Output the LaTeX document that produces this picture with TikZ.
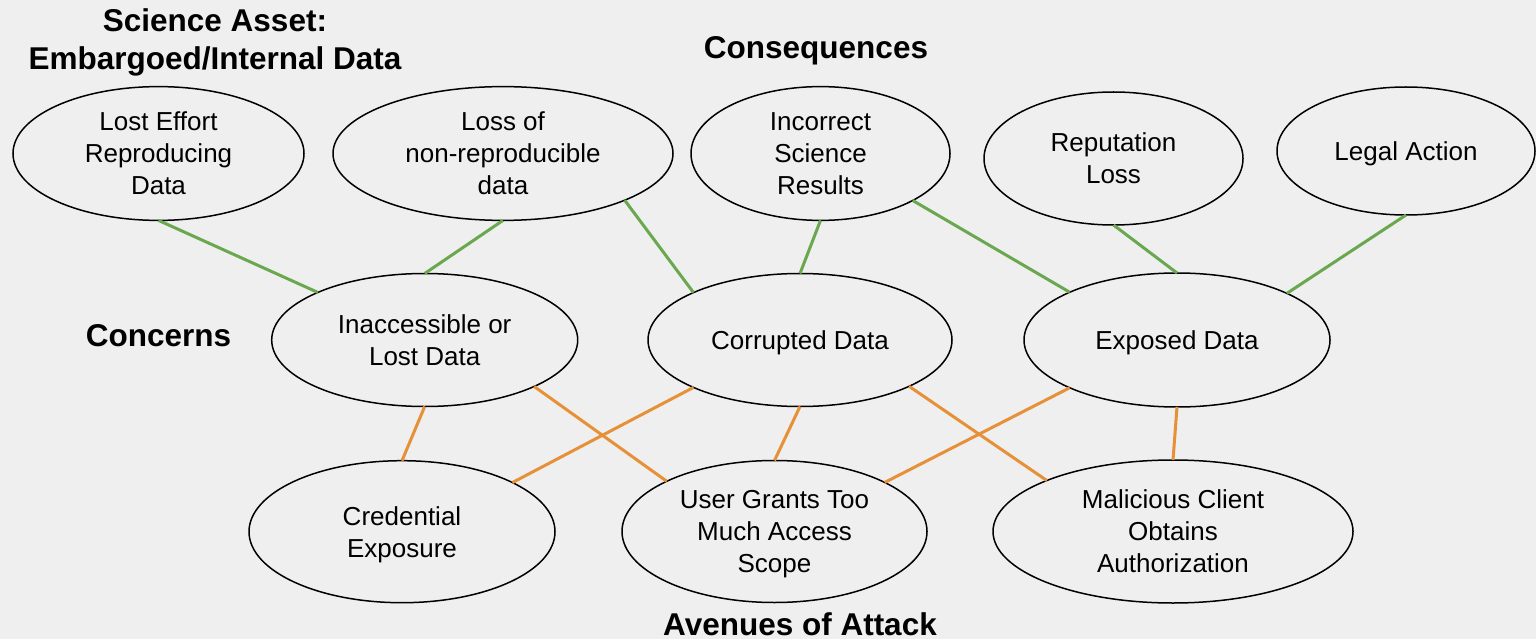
\documentclass[tikz,border=0pt]{standalone}
\usepackage{fontspec}
\setmainfont{Liberation Sans}
\usetikzlibrary{shapes.geometric}
\definecolor{bgc}{HTML}{EFEFEF}
\definecolor{grn}{HTML}{6AA84F}
\definecolor{org}{HTML}{E69138}
\newcommand{\estrut}{\rule[-6pt]{0pt}{30.6pt}}
\newcommand{\tstrut}{\rule[-7pt]{0pt}{36.6pt}}
\newcommand{\capstrut}{\rule{0pt}{22.6pt}}
\tikzset{
  oval/.style={ellipse, draw=black, line width=1.5pt, inner sep=0pt, outer sep=0pt,
    align=center, font=\fontsize{26}{32}\selectfont},
  heading/.style={inner sep=0pt, outer sep=0pt, align=center,
    font=\fontsize{31.5}{38.3}\selectfont\bfseries},
  gline/.style={draw=grn, line width=3pt},
  oline/.style={draw=org, line width=3pt}
}
\begin{document}
\begin{tikzpicture}[x=1pt,y=-1pt]
\fill[bgc] (0,0) rectangle (1536,639);
\useasboundingbox (0,0) rectangle (1536,639);
% headings
\node[heading] (hsci) at (215,39.2) {\tstrut Science Asset:\\\tstrut Embargoed/Internal Data};
\node[heading, text depth=0pt] (hcon) at (816,47.5) {\capstrut Consequences};
\node[heading, text depth=0pt] (hcnc) at (158.5,335.3) {\capstrut Concerns};
\node[heading, text depth=0pt] (hav) at (800,624.5) {\capstrut Avenues of Attack};
% consequences
\node[oval, minimum width=291pt, minimum height=133pt] (le) at (158.5,153.5) {\estrut Lost Effort\\\estrut Reproducing\\\estrut Data};
\node[oval, minimum width=340pt, minimum height=133pt] (lo) at (503,153.5) {\estrut Loss of\\\estrut non-reproducible\\\estrut data};
\node[oval, minimum width=259pt, minimum height=133pt] (ic) at (820.5,153.5) {\estrut Incorrect\\\estrut Science\\\estrut Results};
\node[oval, minimum width=259pt, minimum height=133pt] (rp) at (1113.5,158.5) {\estrut Reputation\\\estrut Loss};
\node[oval, minimum width=258pt, minimum height=128pt] (la) at (1406,151) {\estrut Legal Action};
% concerns
\node[oval, minimum width=306pt, minimum height=133pt] (in) at (424.7,340) {\estrut Inaccessible or\\\estrut Lost Data};
\node[oval, minimum width=304pt, minimum height=133pt] (co) at (800,340) {\estrut Corrupted Data};
\node[oval, minimum width=306pt, minimum height=134pt] (ex) at (1177,340) {\estrut Exposed Data};
% avenues
\node[oval, minimum width=306pt, minimum height=142pt] (ce) at (402,531.7) {\estrut Credential\\\estrut Exposure};
\node[oval, minimum width=305pt, minimum height=142pt] (ug) at (774.5,531.5) {\estrut User Grants Too\\\estrut Much Access\\\estrut Scope};
\node[oval, minimum width=360pt, minimum height=143pt] (mc) at (1173,531.5) {\estrut Malicious Client\\\estrut Obtains\\\estrut Authorization};
% green connectors
\draw[gline] (le.-90) -- (in.156.6);
\draw[gline] (lo.-90) -- (in.90);
\draw[gline] (lo.-21.2) -- (co.156.3);
\draw[gline] (ic.-90) -- (co.90);
\draw[gline] (ic.-27.2) -- (ex.156.5);
\draw[gline] (rp.-90) -- (ex.90);
\draw[gline] (la.-90) -- (ex.23.3);
% orange connectors
\draw[oline] (in.-90) -- (ce.90);
\draw[oline] (in.-23.5) -- (ug.155.1);
\draw[oline] (co.-156.3) -- (ce.24.9);
\draw[oline] (co.-90) -- (ug.90);
\draw[oline] (co.-23.3) -- (mc.158.7);
\draw[oline] (ex.-156.5) -- (ug.24.3);
\draw[oline] (ex.-90) -- (mc.90);
\end{tikzpicture}
\end{document}
